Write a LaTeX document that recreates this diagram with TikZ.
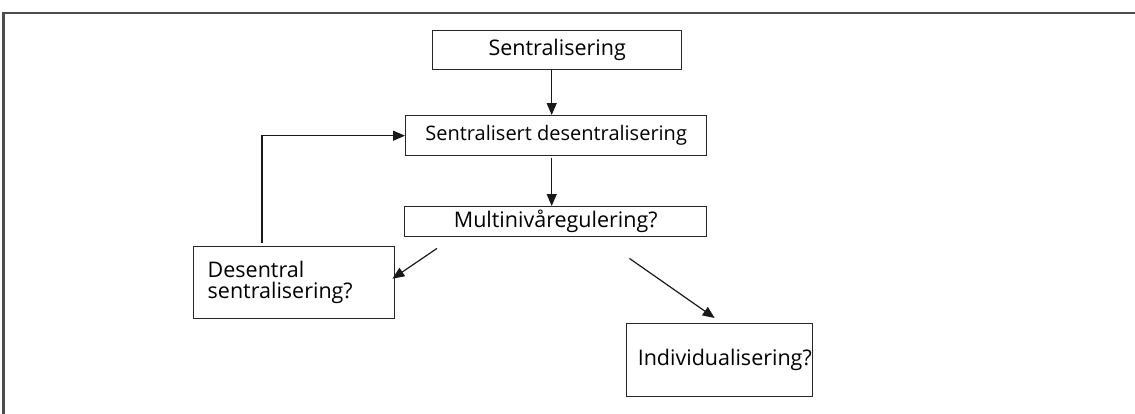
\documentclass[tikz,border=0pt]{standalone}
\usepackage{fontspec}
\setmainfont{Open Sans}
\usetikzlibrary{arrows.meta}
\begin{document}
\begin{tikzpicture}[x=1pt,y=-1pt,
  box/.style={draw=black!85,line width=1.4pt,inner sep=0pt,anchor=north west,
    font=\fontsize{21.5}{21}\selectfont},
  link/.style={draw=black!90,line width=1.2pt,-{Triangle[length=12pt,width=10pt]}},
  frame/.style={draw=black!70,line width=2.2pt}]
\useasboundingbox (0,0) rectangle (1135,413);

% open frame: top rule and left rule
\coordinate (ftl) at (3.5,13);
\coordinate (ftr) at (1136,13);
\coordinate (fbl) at (3.5,414);
\draw[frame] (ftr) -- (ftl) -- (fbl);

% boxes
\node[box,minimum width=249,minimum height=39] (central) at (432,30) {Sentralisering};
\node[box,minimum width=301,minimum height=40,font=\fontsize{20}{21}\selectfont] (centdecent) at (405,115) {Sentralisert desentralisering};
\node[box,minimum width=302,minimum height=30] (multi) at (404,206) {Multinivåregulering?};
\node[box,minimum width=188,minimum height=72,text width=173,inner xsep=14,align=left] (decentcent) at (193,246) {Desentral\\sentralisering?};
\node[box,minimum width=186,minimum height=73,text width=184,inner xsep=1,align=right] (indiv) at (626,323) {Individualisering?};

% connectors
\draw[link] ([xshift=-5.5pt]central.south) -- ([xshift=-4.5pt]centdecent.north);
\draw[link] ([shift={(-4.5,2)}]centdecent.south) -- ([xshift=-4pt]multi.north);
\draw[link] ([shift={(33,11)}]multi.south west) -- ([shift={(-3,-4)}]decentcent.east);
\draw[link] ([shift={(-78,21)}]multi.south east) -- ([shift={(-5,-5)}]indiv.north);
\draw[link] ([shift={(69,-3)}]decentcent.north west) |- (centdecent.west);
\end{tikzpicture}
\end{document}
